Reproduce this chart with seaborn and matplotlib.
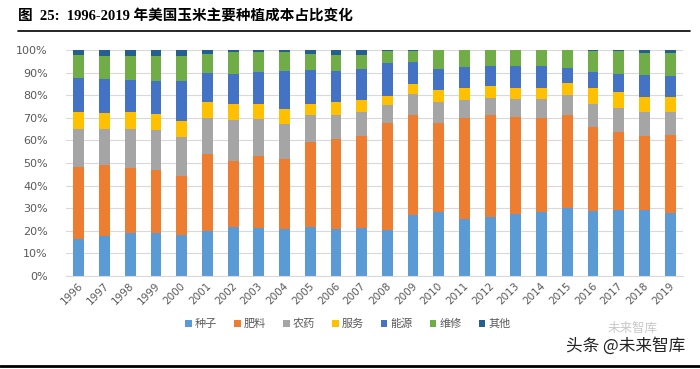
import numpy as np
import pandas as pd
import matplotlib
matplotlib.use('Agg')
import matplotlib.pyplot as plt
import matplotlib.transforms as mtransforms
from matplotlib.patches import Patch
from matplotlib.lines import Line2D
import seaborn as sns

years = [str(y) for y in range(1996, 2020)]
categories = ['种子', '肥料', '农药', '服务', '能源', '维修', '其他']
colors = ['#5B9BD5', '#ED7D31', '#A5A5A5', '#FFC000', '#4472C4', '#70AD47', '#255E91']

seed = [16.4, 17.5, 19.1, 19.1, 18.0, 20.0, 21.7, 21.4, 20.9, 21.6, 20.9, 21.2,
        20.4, 26.8, 28.3, 25.1, 26.2, 27.5, 28.4, 30.3, 28.8, 29.4, 29.1, 28.0]
fertilizer = [31.8, 31.5, 28.8, 27.6, 26.4, 33.8, 29.3, 31.9, 31.0, 37.6, 39.5, 40.9,
              47.1, 44.5, 39.5, 44.6, 45.1, 42.9, 41.6, 41.1, 37.2, 34.5, 33.0, 34.4]
pesticide = [17.0, 16.2, 17.3, 17.9, 17.1, 16.3, 18.1, 16.1, 15.3, 12.0, 11.0, 10.5,
             8.2, 9.3, 9.0, 8.0, 7.5, 8.0, 8.1, 8.5, 10.3, 10.5, 10.4, 10.1]
service = [7.3, 7.0, 7.3, 7.0, 7.3, 7.0, 7.2, 6.8, 6.5, 5.1, 5.4, 5.1,
           3.9, 4.2, 5.7, 5.3, 5.1, 5.0, 5.3, 5.6, 6.8, 7.0, 6.8, 6.8]
energy = [15.2, 15.1, 14.2, 14.8, 17.6, 12.7, 13.3, 14.2, 16.8, 14.7, 13.7, 13.9,
          14.6, 9.9, 9.1, 9.5, 8.9, 9.4, 9.4, 6.5, 7.1, 8.2, 9.5, 9.2]
repair = [9.9, 10.0, 10.6, 10.9, 10.9, 8.3, 9.5, 8.9, 8.6, 7.2, 7.1, 6.3,
          5.2, 4.7, 8.3, 7.4, 7.1, 7.1, 7.1, 7.9, 9.5, 9.8, 10.0, 10.3]
other = [2.4, 2.7, 2.7, 2.7, 2.7, 1.9, 0.9, 0.7, 0.9, 1.8, 2.4, 2.1,
         0.6, 0.6, 0.3, 0.3, 0.3, 0.3, 0.3, 0.3, 0.3, 0.6, 1.2, 1.2]

series = [seed, fertilizer, pesticide, service, energy, repair, other]

sns.set_style('white')
plt.rcParams['font.family'] = ['DejaVu Sans', 'Noto Sans CJK SC']

fig = plt.figure(figsize=(7, 3.69), dpi=100)
ax = fig.add_axes([66 / 700, 1 - 276 / 369, 617 / 700, 226 / 369])

# stacked bars, one seaborn call per cost item
bottom = np.zeros(len(years))
for name, vals, col in zip(categories, series, colors):
    df = pd.DataFrame({'year': years, 'value': vals})
    sns.barplot(data=df, x='year', y='value', color=col, width=0.42,
                bottom=bottom, ax=ax, saturation=1, linewidth=0)
    bottom = bottom + np.array(vals)

ax.set_xlim(-0.5, len(years) - 0.5)
ax.set_ylim(0, 100)
ax.set_yticks(range(0, 101, 10))
ax.set_yticklabels([f'{v}%' for v in range(0, 101, 10)], color='#595959', fontsize=8)
ax.yaxis.grid(True, color='#D9D9D9', linewidth=0.8)
ax.set_axisbelow(True)
for s in ['top', 'right', 'left']:
    ax.spines[s].set_visible(False)
ax.spines['bottom'].set_color('#D9D9D9')
ax.tick_params(axis='both', length=0)
ax.tick_params(axis='y', pad=13)
ax.set_xlabel('')
ax.set_ylabel('')

offset = mtransforms.ScaledTranslation(-0.07, 0, fig.dpi_scale_trans)
for lbl in ax.get_xticklabels():
    lbl.set_rotation(45)
    lbl.set_ha('center')
    lbl.set_va('top')
    lbl.set_fontsize(7.5)
    lbl.set_color('#595959')
    lbl.set_transform(lbl.get_transform() + offset)

handles = [Patch(facecolor=c, edgecolor='none') for c in colors]
fig.legend(handles, categories, loc='center', bbox_to_anchor=(348 / 700, 1 - 324 / 369),
           ncol=7, frameon=False, handlelength=0.6, handleheight=0.6,
           handletextpad=0.3, columnspacing=1.5,
           prop={'family': ['Noto Sans CJK SC'], 'size': 8}, labelcolor='#595959')

fig.text(18 / 700, 1 - 17 / 369, '图  25:  1996-2019 年美国玉米主要种植成本占比变化',
         family=['Liberation Serif', 'Noto Sans CJK SC'], fontweight='bold',
         fontsize=10.5, va='center', ha='left', color='black')
fig.add_artist(Line2D([18 / 700, 690 / 700], [1 - 31 / 369, 1 - 31 / 369],
                      color='black', linewidth=1.2))
fig.add_artist(Line2D([0, 1], [1 - 366 / 369, 1 - 366 / 369],
                      color='black', linewidth=2))

fig.text(633 / 700, 1 - 328 / 369, '未来智库', family=['Noto Sans CJK SC'],
         fontsize=9, color='#C8C8C8', ha='center', va='center')
fig.text(626 / 700, 1 - 346 / 369, '头条 @未来智库', family=['Noto Sans CJK SC'],
         fontsize=12, color='#222222', ha='center', va='center')

fig.savefig('out.png', dpi=100)
